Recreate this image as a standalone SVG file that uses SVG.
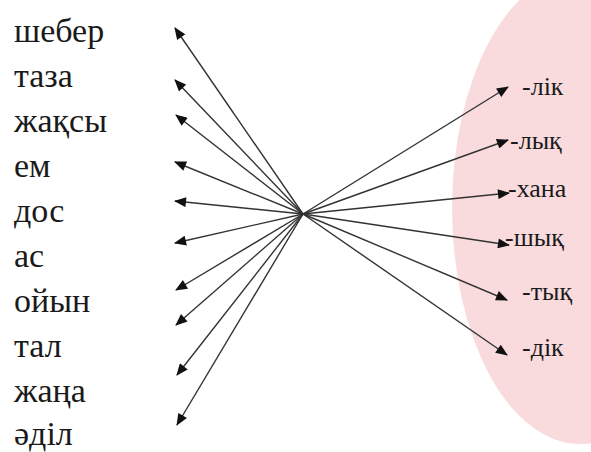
<svg xmlns="http://www.w3.org/2000/svg" width="591" height="452" viewBox="0 0 591 452">
<defs>
<marker id="a" viewBox="0 0 12 10" refX="11" refY="5" markerWidth="13" markerHeight="10" markerUnits="userSpaceOnUse" orient="auto">
<path d="M0,0 L12,5 L0,10 Z" fill="#111"/>
</marker>
</defs>
<rect width="591" height="452" fill="#fff"/>
<ellipse id="bg" cx="580" cy="208" rx="128" ry="236" fill="#f9dbde"/>
<g id="words" fill="#1a1a1a">
<g id="w1"><text x="14" y="42" font-family="Liberation Serif" font-size="34">шебер</text></g>
<g id="w2"><text x="14" y="87" font-family="Liberation Serif" font-size="34">таза</text></g>
<g id="w3"><text x="14" y="132" font-family="Liberation Serif" font-size="34">жақсы</text></g>
<g id="w4"><text x="14" y="177" font-family="Liberation Serif" font-size="34">ем</text></g>
<g id="w5"><text x="14" y="222" font-family="Liberation Serif" font-size="34">дос</text></g>
<g id="w6"><text x="14" y="267" font-family="Liberation Serif" font-size="34">ас</text></g>
<g id="w7"><text x="14" y="312" font-family="Liberation Serif" font-size="34">ойын</text></g>
<g id="w8"><text x="14" y="357" font-family="Liberation Serif" font-size="34">тал</text></g>
<g id="w9"><text x="14" y="402" font-family="Liberation Serif" font-size="34">жаңа</text></g>
<g id="w10"><text x="14" y="445" font-family="Liberation Serif" font-size="34">әділ</text></g>
</g>
<g id="suffixes" fill="#1a1a1a">
<g id="s1"><text x="522" y="95" font-family="Liberation Serif" font-size="26">-лік</text></g>
<g id="s2"><text x="510" y="149" font-family="Liberation Serif" font-size="26">-лық</text></g>
<g id="s3"><text x="508" y="197" font-family="Liberation Serif" font-size="26">-хана</text></g>
<g id="s4"><text x="505" y="246" font-family="Liberation Serif" font-size="26">-шық</text></g>
<g id="s5"><text x="522" y="300" font-family="Liberation Serif" font-size="26">-тық</text></g>
<g id="s6"><text x="522" y="356" font-family="Liberation Serif" font-size="26">-дік</text></g>
</g>
<g id="connectors" stroke="#333" stroke-width="1.4" marker-end="url(#a)">
<line x1="303" y1="214" x2="175" y2="28"/>
<line x1="303" y1="214" x2="175" y2="80"/>
<line x1="303" y1="214" x2="176" y2="115"/>
<line x1="303" y1="214" x2="175" y2="162"/>
<line x1="303" y1="214" x2="175" y2="201"/>
<line x1="303" y1="214" x2="175" y2="243"/>
<line x1="303" y1="214" x2="176" y2="290"/>
<line x1="303" y1="214" x2="176" y2="325"/>
<line x1="303" y1="214" x2="177" y2="375"/>
<line x1="303" y1="214" x2="177" y2="425"/>
<line x1="303" y1="214" x2="508" y2="87"/>
<line x1="303" y1="214" x2="508" y2="140"/>
<line x1="303" y1="214" x2="509" y2="193"/>
<line x1="303" y1="214" x2="509" y2="245"/>
<line x1="303" y1="214" x2="507" y2="300"/>
<line x1="303" y1="214" x2="507" y2="355"/>
</g>
</svg>
